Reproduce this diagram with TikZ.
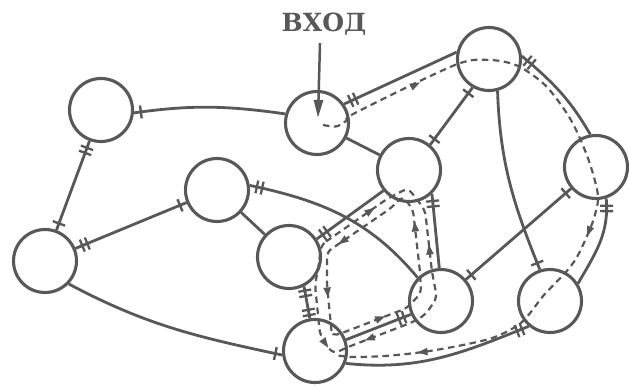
\documentclass[tikz,border=0pt]{standalone}
\usepackage{fontspec}
\newfontfamily\lblfont{DejaVu Serif}
\usetikzlibrary{arrows.meta,decorations.markings}
\definecolor{dcol}{RGB}{88,88,88}
\tikzset{
  st/.style={circle,draw=dcol,line width=3.1pt,minimum size=63pt,inner sep=0pt},
  edge/.style={draw=dcol,line width=2.8pt},
  route/.style={draw=dcol,line width=2.2pt,dash pattern=on 6.5pt off 4.5pt},
  sgl/.style={postaction={decorate,decoration={markings,mark=at position #1 with {\draw[dcol,line width=2.4pt,solid] (0,-6.5pt) -- (0,6.5pt);}}}},
  dbl/.style={postaction={decorate,decoration={markings,mark=at position #1 with {\draw[dcol,line width=2.3pt,solid] (-2.7pt,-6.5pt) -- (-2.7pt,6.5pt) (2.7pt,-6.5pt) -- (2.7pt,6.5pt);}}}},
  tri/.pic={\fill[dcol] (5.5pt,0) -- (-4.5pt,3.8pt) -- (-4.5pt,-3.8pt) -- cycle;},
  lbl/.style={font=\lblfont\bfseries\fontsize{25}{25}\selectfont, text=dcol, inner sep=0pt},
}
\begin{document}
\begin{tikzpicture}[x=1pt,y=1pt]
\useasboundingbox (0,0) rectangle (629,386);
% nodes
\node[st] (A) at (101,276) {};
\node[st] (B) at (317,263) {};
\node[st] (C) at (489,327) {};
\node[st] (D) at (409,216) {};
\node[st] (E) at (596,219) {};
\node[st] (F) at (217,196) {};
\node[st] (G) at (45,125) {};
\node[st] (H) at (289,129) {};
\node[st] (I) at (441,85) {};
\node[st] (J) at (550,85) {};
\node[st] (K) at (315,35) {};
% entrance label
\node[lbl,anchor=base] (in) at (324,354) {ВХОД};
\coordinate (astart) at (320,343);
\coordinate (tip) at (318,268);
\draw[dcol,line width=2.5pt,-{Triangle[length=18pt,width=9pt]}] (astart) -- (tip);
% solid edges
\draw[edge,sgl=7pt] (A.-5) to[out=8,in=172] (B.164);
\draw[edge,dbl=10pt,sgl=-7pt] (A) -- (G);
\draw[edge,dbl=10pt,sgl=-7pt] (G) -- (F);
\draw[edge,dbl=10pt] (F.8) to[out=-12,in=130] (I.135);
\draw[edge] (F) -- (H);
\draw[edge] (B) -- (D);
\draw[edge,dbl=10pt] (B.35) -- (C.168);
\draw[edge,sgl=7pt,sgl=-7pt] (D.50) -- (C.-120);
\draw[edge,dbl=10pt] (C.5) to[out=-40,in=120] (E.100);
\draw[edge,sgl=-7pt] (C.-75) to[out=-88,in=112] (J.108);
\draw[edge,dbl=10pt] (E.-72) to[out=-85,in=60] (J.32);
\draw[edge,sgl=7pt,sgl=-7pt] (E) -- (I);
\draw[edge,dbl=10pt] (J.-130) to[out=-158,in=-6] (K.-22);
\draw[edge,dbl=10pt] (D.-46) -- (I.93);
\draw[edge,dbl=-10pt] (D.-141) -- (H.33);
\draw[edge,dbl=7pt,dbl=-6pt] (H.-63) -- (K.99);
\draw[edge,dbl=-10pt] (K.20) -- (I.-156);
\draw[edge,sgl=-7pt] (G.-44) to[out=-28,in=168] (K.-173);
% dashed route
\draw[route] plot[smooth,tension=0.5] coordinates {(323,261) (336,259.5) (346,265) (356,273.5) (455,321) (490,326) (518,320) (545,301) (566,274) (578,252) (590,222) (598,190) (594,168) (587,150) (577,129) (566,114) (544,91) (522,64) (495,49) (463,41) (423,34) (385,30) (352,29) (335,31)};
% interior lane loop
\draw[route,rounded corners=5pt] (332,50) -- (327,101) -- (327,134) -- (391,178) -- (403,190) -- (413,176) -- (420,114) -- (421,93) -- (407,78) -- (342,53) -- cycle;
% exterior lane loop
\draw[route,rounded corners=6pt] (321,141) -- (387,187) -- (408,198) -- (425,176) -- (432,114) -- (437,88) -- (425,71) -- (413,64) -- (348,39) -- (333,32) -- (320,51) -- (315,101) -- (319,122) -- cycle;
% arrowheads
\pic[rotate=27] at (415,301) {tri};
\pic[rotate=-111] at (589,155) {tri};
\pic[rotate=185] at (423,34) {tri};
\pic[rotate=-84] at (327.5,94) {tri};
\pic[rotate=215] at (343,145) {tri};
\pic[rotate=96] at (415,159) {tri};
\pic[rotate=21] at (380,67.6) {tri};
\pic[rotate=35] at (370,175) {tri};
\pic[rotate=96] at (429.5,136) {tri};
\pic[rotate=201] at (370,47.5) {tri};
\pic[rotate=-56] at (325,43) {tri};
\end{tikzpicture}
\end{document}
